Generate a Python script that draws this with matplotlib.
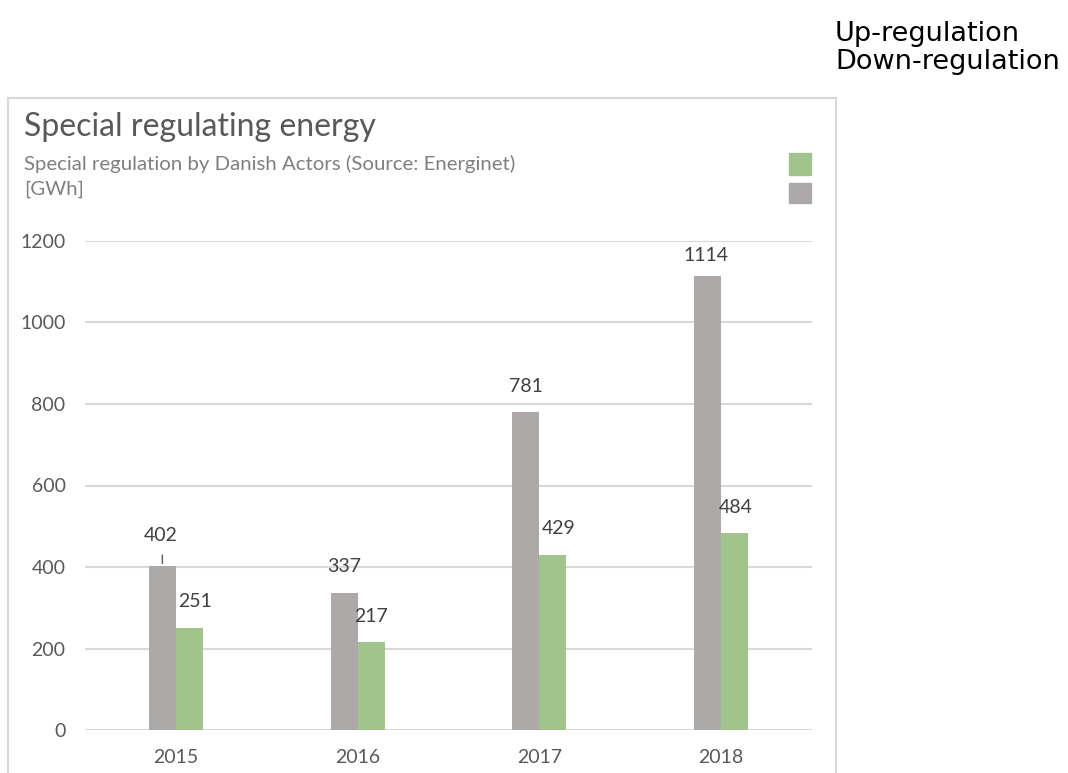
import numpy as np
import matplotlib.pyplot as plt
from matplotlib.patches import Rectangle

years = ['2015', '2016', '2017', '2018']
down_regulation = [402, 337, 781, 1114]
up_regulation = [251, 217, 429, 484]

# label nudges in points (dx, dy)
down_offsets = [(-1, 22), (0, 19), (0, 18), (-1, 15)]
up_offsets = [(4, 19), (0, 18), (4, 19), (1, 18)]

grey = '#ADA9A9'
green = '#A0C48C'
txt = '#595959'
font = 'Lato'

fig = plt.figure(figsize=(10.68, 7.73), dpi=100)

# outer frame of the pasted chart
fig.patches.append(Rectangle((8 / 1068, -0.01), (836 - 8) / 1068, (773 - 98) / 773 + 0.01,
                             transform=fig.transFigure, fill=False,
                             edgecolor='#d9d9d9', lw=1.5))

ax = fig.add_axes([85 / 1068, 43 / 773, 727 / 1068, 489 / 773])

x = np.arange(len(years))
w = 0.149
b1 = ax.bar(x - w / 2, down_regulation, w, color=grey, zorder=3)
b2 = ax.bar(x + w / 2, up_regulation, w, color=green, zorder=3)

for i, v in enumerate(down_regulation):
    dx, dy = down_offsets[i]
    ax.annotate(str(v), xy=(x[i] - w / 2, v), xytext=(dx, dy),
                textcoords='offset points', ha='center', va='center',
                fontsize=14, color='#404040', family=font)
for i, v in enumerate(up_regulation):
    dx, dy = up_offsets[i]
    ax.annotate(str(v), xy=(x[i] + w / 2, v), xytext=(dx, dy),
                textcoords='offset points', ha='center', va='center',
                fontsize=14, color='#404040', family=font)

# leader line for the first label
ax.annotate('', xy=(x[0] - w / 2, down_regulation[0]),
            xytext=(0, 10), textcoords='offset points',
            arrowprops=dict(arrowstyle='-', color='#595959', lw=1))

ax.set_xlim(-0.5, 3.5)
ax.set_ylim(0, 1200)
ax.set_yticks(np.arange(0, 1201, 200))
ax.set_xticks(x)
ax.set_xticklabels(years)
ax.grid(axis='y', color='#d9d9d9', lw=1.5, zorder=0)
for s in ax.spines.values():
    s.set_visible(False)
ax.tick_params(length=0, colors=txt, labelsize=14)
ax.tick_params(axis='y', pad=14)
ax.tick_params(axis='x', pad=14)
for lab in ax.get_xticklabels() + ax.get_yticklabels():
    lab.set_family(font)

fig.text(24 / 1068, 1 - 127 / 773, 'Special regulating energy', fontsize=23,
         color=txt, family=font, va='center')
fig.text(24 / 1068, 1 - 164 / 773, 'Special regulation by Danish Actors (Source: Energinet)',
         fontsize=14.7, color='#7f7f7f', family=font, va='center')
fig.text(24 / 1068, 1 - 189 / 773, '[GWh]', fontsize=14.7, color='#7f7f7f',
         family=font, va='center')

# legend swatches inside the frame, labels ended up outside it
fig.patches.append(Rectangle((789 / 1068, 1 - 175 / 773), 22 / 1068, 22 / 773,
                             transform=fig.transFigure, color=green))
fig.patches.append(Rectangle((789 / 1068, 1 - 203 / 773), 22 / 1068, 20 / 773,
                             transform=fig.transFigure, color=grey))
fig.text(835 / 1068, 1 - 34 / 773, 'Up-regulation', fontsize=19.5,
         color='black', va='center')
fig.text(835 / 1068, 1 - 62 / 773, 'Down-regulation', fontsize=19.5,
         color='black', va='center')

fig.savefig('out.png', dpi=100)
